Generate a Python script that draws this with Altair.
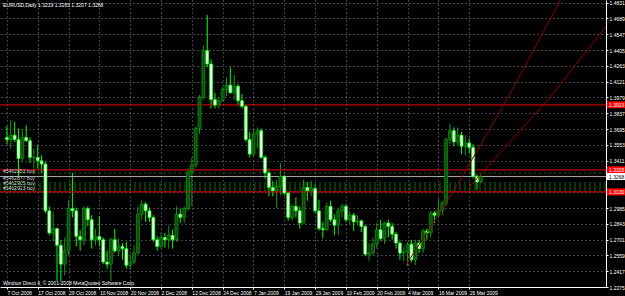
import altair as alt
import pandas as pd

# ---------------- data ----------------
date_labels = ["7 Oct 2008", "17 Oct 2008", "29 Oct 2008", "10 Nov 2008", "20 Nov 2008",
               "2 Dec 2008", "12 Dec 2008", "24 Dec 2008", "7 Jan 2009", "19 Jan 2009",
               "29 Jan 2009", "10 Feb 2009", "20 Feb 2009", "4 Mar 2009", "16 Mar 2009",
               "26 Mar 2009"]

opens = [1.3620, 1.3600, 1.3640, 1.3600, 1.3430, 1.3620, 1.3590, 1.3440, 1.3440, 1.3410,
         1.3380, 1.2960, 1.2760, 1.2800, 1.2650, 1.2480, 1.2600, 1.2980, 1.2960, 1.2730,
         1.2700, 1.2980, 1.2880, 1.2700, 1.2730, 1.2700, 1.2500, 1.2480, 1.2700, 1.2600,
         1.2640, 1.2620, 1.2470, 1.2500, 1.2580, 1.2930, 1.3020, 1.2960, 1.2900, 1.2700,
         1.2640, 1.2720, 1.2700, 1.2740, 1.2700, 1.2930, 1.2900, 1.2980, 1.3310, 1.3370,
         1.3700, 1.3980, 1.4400, 1.4280, 1.3960, 1.3910, 1.3950, 1.4050, 1.4090, 1.4020,
         1.4080, 1.3950, 1.3900, 1.3600, 1.3470, 1.3650, 1.3680, 1.3440, 1.3300, 1.3170,
         1.3140, 1.3180, 1.3270, 1.3120, 1.2900, 1.3000, 1.2960, 1.2850, 1.3170, 1.3140,
         1.3160, 1.2960, 1.2800, 1.2790, 1.3000, 1.2880, 1.2830, 1.2960, 1.3000, 1.2880,
         1.2920, 1.2860, 1.2870, 1.2820, 1.2570, 1.2580, 1.2660, 1.2790, 1.2710, 1.2850,
         1.2820, 1.2750, 1.2670, 1.2580, 1.2590, 1.2660, 1.2520, 1.2670, 1.2620, 1.2780,
         1.2760, 1.2940, 1.2920, 1.2960, 1.3030, 1.3600, 1.3680, 1.3580, 1.3640, 1.3540,
         1.3570, 1.3530, 1.3270, 1.3219]
highs = [1.3720, 1.3780, 1.3760, 1.3700, 1.3690, 1.3730, 1.3620, 1.3520, 1.3550, 1.3460,
         1.3400, 1.3000, 1.2950, 1.2810, 1.2700, 1.2720, 1.3050, 1.3300, 1.2990, 1.2790,
         1.3000, 1.3000, 1.2920, 1.2800, 1.2910, 1.2720, 1.2600, 1.2720, 1.2800, 1.2710,
         1.2670, 1.2680, 1.2560, 1.2650, 1.3000, 1.3060, 1.3040, 1.2990, 1.2920, 1.2730,
         1.2760, 1.2760, 1.2830, 1.2790, 1.3000, 1.2980, 1.3000, 1.3340, 1.3440, 1.3720,
         1.4000, 1.4450, 1.4720, 1.4320, 1.4020, 1.3980, 1.4080, 1.4160, 1.4250, 1.4180,
         1.4100, 1.4010, 1.3910, 1.3670, 1.3690, 1.3710, 1.3700, 1.3460, 1.3340, 1.3230,
         1.3240, 1.3390, 1.3280, 1.3130, 1.3020, 1.3080, 1.3000, 1.3240, 1.3220, 1.3230,
         1.3190, 1.3060, 1.2860, 1.3030, 1.3050, 1.2930, 1.2990, 1.3020, 1.3020, 1.2960,
         1.2940, 1.2920, 1.2880, 1.2830, 1.2670, 1.2720, 1.2850, 1.2880, 1.2860, 1.2880,
         1.2850, 1.2770, 1.2690, 1.2640, 1.2680, 1.2700, 1.2700, 1.2700, 1.2800, 1.2800,
         1.2960, 1.2960, 1.3070, 1.3050, 1.3620, 1.3740, 1.3710, 1.3710, 1.3670, 1.3640,
         1.3610, 1.3560, 1.3290, 1.3285]
lows = [1.3560, 1.3520, 1.3580, 1.3260, 1.3400, 1.3580, 1.3390, 1.3300, 1.3340, 1.3300,
        1.2940, 1.2740, 1.2690, 1.2330, 1.2330, 1.2380, 1.2560, 1.2900, 1.2640, 1.2600,
        1.2650, 1.2820, 1.2620, 1.2650, 1.2640, 1.2480, 1.2440, 1.2330, 1.2580, 1.2550,
        1.2520, 1.2440, 1.2430, 1.2480, 1.2570, 1.2880, 1.2860, 1.2860, 1.2680, 1.2600,
        1.2620, 1.2630, 1.2620, 1.2620, 1.2680, 1.2850, 1.2850, 1.2960, 1.3000, 1.3350,
        1.3650, 1.3960, 1.4250, 1.3880, 1.3880, 1.3880, 1.3940, 1.3990, 1.4050, 1.3960,
        1.3900, 1.3880, 1.3580, 1.3440, 1.3450, 1.3520, 1.3430, 1.3250, 1.3090, 1.3090,
        1.2990, 1.3100, 1.3100, 1.2870, 1.2870, 1.2900, 1.2800, 1.2850, 1.3050, 1.3090,
        1.2940, 1.2780, 1.2710, 1.2780, 1.2860, 1.2740, 1.2740, 1.2900, 1.2860, 1.2840,
        1.2780, 1.2830, 1.2770, 1.2550, 1.2510, 1.2560, 1.2620, 1.2690, 1.2660, 1.2720,
        1.2700, 1.2620, 1.2520, 1.2510, 1.2460, 1.2500, 1.2470, 1.2580, 1.2580, 1.2700,
        1.2720, 1.2850, 1.2900, 1.2920, 1.3000, 1.3560, 1.3540, 1.3550, 1.3470, 1.3460,
        1.3480, 1.3250, 1.3150, 1.3207]
closes = opens[1:] + [1.3268]

y_ticks = [1.2275, 1.2417, 1.2559, 1.2701, 1.2843, 1.2985, 1.3127, 1.3269, 1.3411, 1.3553,
           1.3695, 1.3837, 1.3979, 1.4121, 1.4263, 1.4405, 1.4547, 1.4689, 1.4831]

level_prices = [1.3913, 1.3328, 1.3130]
bid_price = 1.3268
order_prices = [1.3300, 1.3210, 1.3192, 1.3174, 1.3156, 1.3138]
order_texts = ["#5462853 buy", "#5462877 buy", "#5462905 buy", "#5462913 buy"]
order_text_prices = [1.3318, 1.3255, 1.3210, 1.3165]
title_text = "EURUSD,Daily  1.3219 1.3265 1.3207 1.3268"
copyright_text = "Windsor Direct 4, \u00a9 2001-2008 MetaQuotes Software Corp."

# diagonal lines, (bar index, price) points
lineA_idx = [103.6, 116.9, 129.7, 143.7, 146.3]
lineA_px = [1.2473, 1.3194, 1.3956, 1.4855, 1.4990]
lineB_idx = [120.0, 140.4, 147.6, 154.2, 155.7]
lineB_px = [1.3174, 1.3956, 1.4271, 1.4558, 1.4630]

# ---------------- tables ----------------
n = len(opens)
df = pd.DataFrame({"idx": list(range(n)), "open": opens, "high": highs,
                   "low": lows, "close": closes})
df["kind"] = ["bull" if c >= o else "bear" for o, c in zip(df.open, df.close)]

lv = pd.DataFrame({"price": level_prices, "lab": [f"{p:.4f}" for p in level_prices]})
bid = pd.DataFrame({"price": [bid_price], "lab": [f"{bid_price:.4f}"]})
orders = pd.DataFrame({"price": order_prices})
order_lab = pd.DataFrame({"price": order_text_prices, "t": order_texts})
diag = pd.DataFrame({
    "idx": lineA_idx + lineB_idx,
    "price": lineA_px + lineB_px,
    "line": ["A"] * len(lineA_idx) + ["B"] * len(lineB_idx),
})

xs = alt.Scale(domain=[-0.5, 154.2], nice=False, zero=False)
ys = alt.Scale(domain=[1.2275, 1.4855], nice=False, zero=False)
FONT = "Liberation Sans"
FS = 5

label_expr = "[" + ",".join(f"'{d}'" for d in date_labels) + "][round(datum.value/8)]"

x_axis = alt.Axis(values=list(range(0, 121, 8)), labelExpr=label_expr, orient="bottom",
                  grid=True, gridColor="#7a8896", gridDash=[1, 3], gridWidth=1,
                  labelAlign="left", labelColor="white", labelFontSize=FS, labelFont=FONT,
                  labelPadding=1, tickColor="white", tickSize=2, domainColor="white",
                  labelOverlap=False, title=None, labelFlush=False)
y_axis = alt.Axis(values=y_ticks, format=".4f", orient="right",
                  grid=True, gridColor="#7a8896", gridDash=[1, 3], gridWidth=1,
                  labelColor="white", labelFontSize=FS, labelFont=FONT, labelPadding=1,
                  tickColor="white", tickSize=2, domainColor="white",
                  labelOverlap=False, labelSeparation=0, title=None, labelFlush=False)

kind_scale_wick = alt.Scale(domain=["bull", "bear"], range=["#139a13", "#00ff00"])
kind_scale_fill = alt.Scale(domain=["bull", "bear"], range=["#0b4f0b", "#e8ffe8"])

X = lambda f: alt.X(f, scale=xs, axis=x_axis)
Y = lambda f: alt.Y(f, scale=ys, axis=y_axis)

wick = alt.Chart(df).mark_rule(strokeWidth=1).encode(
    x=X("idx:Q"), y=Y("low:Q"), y2="high:Q",
    color=alt.Color("kind:N", scale=kind_scale_wick, legend=None),
)
body = alt.Chart(df).mark_bar(size=3, strokeWidth=0.7).encode(
    x=X("idx:Q"), y=Y("open:Q"), y2="close:Q",
    fill=alt.Fill("kind:N", scale=kind_scale_fill, legend=None),
    stroke=alt.Stroke("kind:N", scale=kind_scale_wick, legend=None),
)

order_lines = alt.Chart(orders).mark_rule(color="#138a13", strokeWidth=0.8,
                                          strokeDash=[2, 3]).encode(y=Y("price:Q"))
order_txt = alt.Chart(order_lab).mark_text(align="left", baseline="middle", fontSize=FS,
                                           font=FONT, color="#d0d0d0").encode(
    x=alt.value(3), y=Y("price:Q"), text="t:N")
levels = alt.Chart(lv).mark_rule(color="#c00000", strokeWidth=1.2).encode(y=Y("price:Q"))
bidline = alt.Chart(bid).mark_rule(color="#a8a8a8", strokeWidth=1).encode(y=Y("price:Q"))
diag_lines = alt.Chart(diag).mark_line(color="#9a0000", strokeWidth=1, clip=True).encode(
    x=X("idx:Q"), y=Y("price:Q"), detail="line:N")

lv_box = alt.Chart(lv).mark_rect(color="#ff0000", yOffset=-3.5, y2Offset=3.5).encode(
    x=alt.value(607), x2=alt.value(625), y=Y("price:Q"), y2="price:Q")
lv_txt = alt.Chart(lv).mark_text(align="left", baseline="middle", fontSize=FS, font=FONT,
                                 color="white").encode(
    x=alt.value(609), y=Y("price:Q"), text="lab:N")
bid_box = alt.Chart(bid).mark_rect(color="white", yOffset=-3.5, y2Offset=3.5).encode(
    x=alt.value(607), x2=alt.value(625), y=Y("price:Q"), y2="price:Q")
bid_txt = alt.Chart(bid).mark_text(align="left", baseline="middle", fontSize=FS, font=FONT,
                                   color="black").encode(
    x=alt.value(609), y=Y("price:Q"), text="lab:N")

title = alt.Chart(pd.DataFrame({"t": [title_text]})).mark_text(
    align="left", baseline="top", fontSize=FS, font=FONT, color="white").encode(
    x=alt.value(3), y=alt.value(3), text="t:N")
copy = alt.Chart(pd.DataFrame({"t": [copyright_text]})).mark_text(
    align="left", baseline="middle", fontSize=FS, font=FONT, color="white").encode(
    x=alt.value(3), y=alt.value(283), text="t:N")

chart = alt.layer(
    wick, order_lines, levels, bidline, body, diag_lines, order_txt,
    lv_box, lv_txt, bid_box, bid_txt, title, copy
).properties(
    width=606, height=287, background="#000000",
    padding={"left": 0, "top": 0, "right": 19, "bottom": 9},
    autosize=alt.AutoSizeParams(type="none"),
).configure_view(stroke=None).configure_axis(labelOverlap=False)

chart.save("out.html", embed_options={"renderer": "svg", "actions": False})
